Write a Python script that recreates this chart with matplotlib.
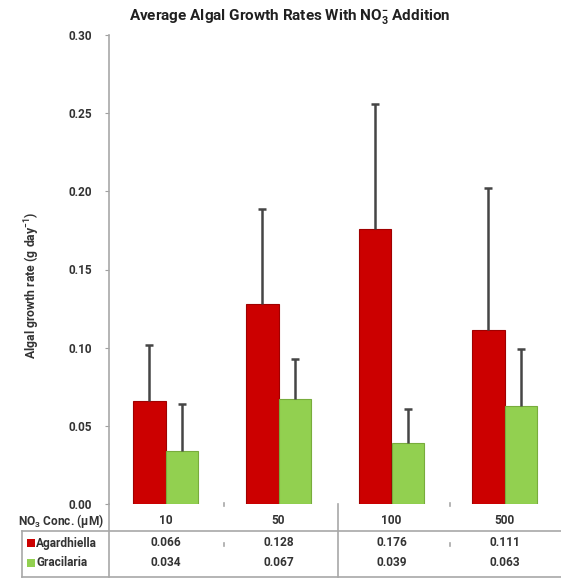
import matplotlib
matplotlib.use("Agg")
import matplotlib.pyplot as plt
from matplotlib.transforms import blended_transform_factory
from matplotlib.patches import Rectangle
import numpy as np

FONT = 'Roboto'
plt.rcParams['font.family'] = [FONT, 'DejaVu Sans']
plt.rcParams['mathtext.fontset'] = 'custom'
plt.rcParams['mathtext.rm'] = FONT + ':bold'
plt.rcParams['mathtext.it'] = FONT + ':bold'
plt.rcParams['mathtext.bf'] = FONT + ':bold'

categories = ["10", "50", "100", "500"]
series_names = ["Agardhiella", "Gracilaria"]
agardhiella = [0.066, 0.128, 0.176, 0.111]
gracilaria = [0.034, 0.067, 0.039, 0.063]
agardhiella_err = [0.036, 0.061, 0.080, 0.091]
gracilaria_err = [0.030, 0.026, 0.022, 0.036]
yticks = [0.00, 0.05, 0.10, 0.15, 0.20, 0.25, 0.30]

red = "#cc0000"
green = "#92d050"
txt = "#333333"

fig = plt.figure(figsize=(5.61, 5.79), dpi=100)
ax = fig.add_axes([109/561, 1-504/579, (561-109)/561, (504-35)/579])

x = np.arange(len(categories))
w = 0.285
ax.bar(x - w/2, agardhiella, w, color=red, edgecolor="#a00000", linewidth=0.8)
ax.bar(x + w/2, gracilaria, w, color=green, edgecolor="#78ac3c", linewidth=0.8)
for off, vals, errs in [(-w/2, agardhiella, agardhiella_err), (w/2, gracilaria, gracilaria_err)]:
    vals = np.array(vals); errs = np.array(errs)
    ax.errorbar(x + off, vals, yerr=[np.zeros(4), errs], fmt='none', ecolor="#454545",
                elinewidth=1.8, capsize=0)
    ax.plot(x + off, vals + errs, linestyle='none', marker='_', markersize=6,
            markeredgewidth=1.8, color="#454545")

ax.set_xlim(-0.5, len(categories) - 0.5)
ax.set_ylim(0, 0.30)
ax.set_yticks(yticks)
ax.set_yticklabels([f"{v:.2f}" for v in yticks], fontsize=8.5, fontweight='bold', color=txt)
ax.tick_params(axis='y', length=3, color="#a0a0a0", pad=9)
ax.set_xticks([])
for s in ["top", "right", "bottom"]:
    ax.spines[s].set_visible(False)
ax.spines["left"].set_color("#a8a8a8")
ax.spines["left"].set_linewidth(1.2)

ax.set_ylabel("Algal growth rate (g day$^{-1}$)", fontsize=8.8, fontweight='bold', color=txt)
ax.yaxis.set_label_coords((42 - 109) / 452, (504 - 285) / 469)
fig.text(290/561, 1-16/579, "Average Algal Growth Rates With NO$_3^{-}$ Addition",
         ha='center', va='center', fontsize=11, fontweight='bold', color="#202020")

# data table below the axis
tr = blended_transform_factory(ax.transData, fig.transFigure)
fy = lambda py: 1 - py/579
fx = lambda px: px/561
fs = 8.6
for i, c in enumerate(categories):
    fig.text(x[i], fy(521), c, transform=tr, ha='center', va='center', fontsize=fs, fontweight='bold', color=txt)
    fig.text(x[i], fy(543), f"{agardhiella[i]:.3f}", transform=tr, ha='center', va='center', fontsize=fs, fontweight='bold', color=txt)
    fig.text(x[i], fy(563), f"{gracilaria[i]:.3f}", transform=tr, ha='center', va='center', fontsize=fs, fontweight='bold', color=txt)

fig.text(fx(104), fy(521), "NO$_3$ Conc. (µM)", ha='right', va='center', fontsize=fs, fontweight='bold', color=txt)
for name, col, py in [(series_names[0], red, 543), (series_names[1], green, 563)]:
    fig.patches.append(Rectangle((fx(27), fy(py) - 4/579), 8/561, 8/579, transform=fig.transFigure,
                                 facecolor=col, edgecolor='none'))
    fig.text(fx(36), fy(py), name, ha='left', va='center', fontsize=fs, fontweight='bold', color=txt)

lc = "#a8a8a8"
def hline(y, x0, x1):
    fig.add_artist(plt.Line2D([fx(x0), fx(x1)], [fy(y), fy(y)], transform=fig.transFigure, color=lc, lw=1.2))
def vline(xp, y0, y1):
    fig.add_artist(plt.Line2D([fx(xp), fx(xp)], [fy(y0), fy(y1)], transform=fig.transFigure, color=lc, lw=1.2))

colw = (561 - 109) / 4
hline(531, 22, 561)
hline(577, 22, 561)
vline(22, 531, 577)
vline(109, 504, 577)
vline(109 + 2 * colw + 3, 504, 577)
for k in [1, 3]:
    xs = 109 + k * colw + 2
    vline(xs, 503, 506)
    vline(xs, 543, 546)

fig.savefig("out.png", dpi=100)
